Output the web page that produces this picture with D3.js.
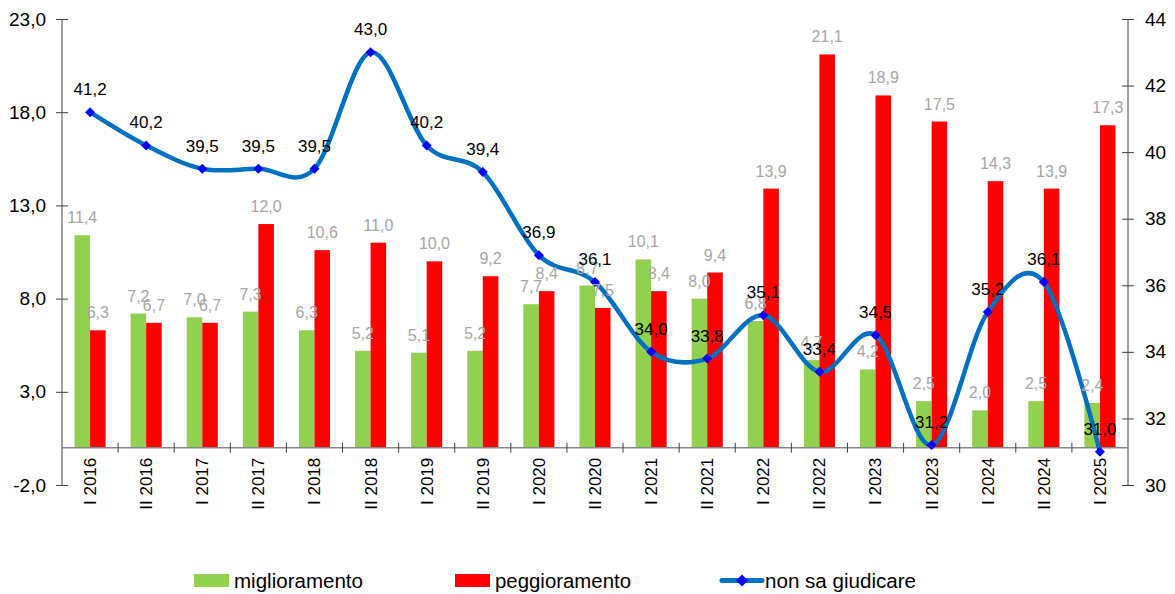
<!DOCTYPE html>
<html>
<head>
<meta charset="utf-8">
<script src="https://cdn.jsdelivr.net/npm/d3@7"></script>
<style>
  html, body { margin: 0; padding: 0; background: #fff; }
  svg { display: block; font-family: "Liberation Sans", Arial, sans-serif; }
</style>
</head>
<body>
<svg id="chart" width="1175" height="594"></svg>
<script>
// Semesters
const categories = ["I 2016", "II 2016", "I 2017", "II 2017", "I 2018", "II 2018", "I 2019", "II 2019",
  "I 2020", "II 2020", "I 2021", "II 2021", "I 2022", "II 2022", "I 2023", "II 2023",
  "I 2024", "II 2024", "I 2025"];

// Share of answers (%)
const miglioramento = [11.4, 7.2, 7.0, 7.3, 6.3, 5.2, 5.1, 5.2, 7.7, 8.7, 10.1, 8.0, 6.8, 4.7, 4.2, 2.5, 2.0, 2.5, 2.4];
const peggioramento = [6.3, 6.7, 6.7, 12.0, 10.6, 11.0, 10.0, 9.2, 8.4, 7.5, 8.4, 9.4, 13.9, 21.1, 18.9, 17.5, 14.3, 13.9, 17.3];
const nonSaGiudicare = [41.2, 40.2, 39.5, 39.5, 39.5, 43.0, 40.2, 39.4, 36.9, 36.1, 34.0, 33.8, 35.1, 33.4, 34.5, 31.2, 35.2, 36.1, 31.0];

const leftTicks = [-2, 3, 8, 13, 18, 23];
const rightTicks = [30, 32, 34, 36, 38, 40, 42, 44];

const seriesNames = ["miglioramento", "peggioramento", "non sa giudicare"];
const barColors = { miglioramento: "#92D050", peggioramento: "#FF0000" };
const lineColor = "#0070C0";
const markerColor = "#0000FF";

const locIt = d3.formatLocale({ decimal: ",", thousands: ".", grouping: [3], currency: ["€", ""], minus: "-" });
const f1 = locIt.format(".1f");

const svg = d3.select("#chart");
const plotLeft = 62, plotRight = 1128, plotTop = 19, plotBottom = 485;

const x = d3.scaleBand().domain(categories).range([plotLeft, plotRight]).paddingInner(0.446).paddingOuter(0.223);
const xs = d3.scaleBand().domain(["miglioramento", "peggioramento"]).range([0, x.bandwidth()]);
const yL = d3.scaleLinear().domain([-2, 23]).range([plotBottom, plotTop]);
const yR = d3.scaleLinear().domain([30, 44]).range([plotBottom, plotTop]);

const rows = categories.map((c, i) => ({ c, miglioramento: miglioramento[i], peggioramento: peggioramento[i], ns: nonSaGiudicare[i] }));

// Bars
const g = svg.append("g");
["miglioramento", "peggioramento"].forEach(k => {
  g.selectAll(null).data(rows).enter().append("rect")
    .attr("x", d => x(d.c) + xs(k))
    .attr("width", xs.bandwidth())
    .attr("y", d => yL(Math.max(0, d[k])))
    .attr("height", d => Math.abs(yL(d[k]) - yL(0)))
    .attr("fill", barColors[k]);
});

// Left axis
const axL = svg.append("g").attr("transform", `translate(${plotLeft},0)`)
  .call(d3.axisLeft(yL).tickValues(leftTicks).tickFormat(f1).tickSize(6).tickPadding(10));
axL.select(".domain").attr("stroke", "#404040").attr("d", `M0,${plotTop}V${plotBottom}`);
axL.selectAll(".tick line").attr("stroke", "#404040").attr("x2", -6).attr("x1", 6);
axL.selectAll(".tick text").attr("font-size", 19).attr("fill", "#000").attr("font-family", "Liberation Sans, Arial, sans-serif");

// Right axis
const axR = svg.append("g").attr("transform", `translate(${plotRight},0)`)
  .call(d3.axisRight(yR).tickValues(rightTicks).tickFormat(d3.format("d")).tickSize(6).tickPadding(11));
axR.select(".domain").attr("stroke", "#404040").attr("d", `M0,${plotTop}V${plotBottom}`);
axR.selectAll(".tick line").attr("stroke", "#404040").attr("x1", -6).attr("x2", 6);
axR.selectAll(".tick text").attr("font-size", 19).attr("fill", "#000").attr("font-family", "Liberation Sans, Arial, sans-serif");

// Category axis at zero
const y0 = yL(0);
const axX = svg.append("g").attr("transform", `translate(0,${y0})`);
axX.append("line").attr("x1", plotLeft).attr("x2", plotRight).attr("stroke", "#888").attr("stroke-width", 1.5);
const gap = (x.step() - x.bandwidth()) / 2;
axX.selectAll(".tk").data(categories.slice(1)).enter().append("line")
  .attr("x1", d => x(d) - gap).attr("x2", d => x(d) - gap)
  .attr("y1", -5).attr("y2", 5).attr("stroke", "#404040");
axX.selectAll(".lbl").data(categories).enter().append("text")
  .attr("transform", d => `translate(${x(d) + x.bandwidth() / 2},${10}) rotate(-90)`)
  .attr("dy", "0.35em")
  .attr("text-anchor", "end")
  .attr("font-size", 17)
  .attr("fill", "#000")
  .text(d => d);

// Line series (smoothed)
const line = d3.line()
  .x(d => x(d.c) + x.bandwidth() / 2)
  .y(d => yR(d.ns))
  .curve(d3.curveCardinal.tension(0));
svg.append("path").datum(rows)
  .attr("d", line)
  .attr("fill", "none")
  .attr("stroke", lineColor)
  .attr("stroke-width", 4.5)
  .attr("stroke-linecap", "round");

const diamond = "M0,-5L5,0L0,5L-5,0Z";
svg.selectAll(".mk").data(rows).enter().append("path")
  .attr("d", diamond)
  .attr("transform", d => `translate(${x(d.c) + x.bandwidth() / 2},${yR(d.ns)})`)
  .attr("fill", markerColor);

// Bar value labels
["miglioramento", "peggioramento"].forEach(k => {
  svg.selectAll(null).data(rows).enter().append("text")
    .attr("x", d => x(d.c) + xs(k) + xs.bandwidth() / 2)
    .attr("y", d => yL(d[k]) - 12)
    .attr("text-anchor", "middle")
    .attr("font-size", 16)
    .attr("fill", "#A6A6A6")
    .text(d => f1(d[k]));
});

// Line value labels
svg.selectAll(".nl").data(rows).enter().append("text")
  .attr("x", d => x(d.c) + x.bandwidth() / 2)
  .attr("y", d => yR(d.ns) - 17)
  .attr("text-anchor", "middle")
  .attr("font-size", 17)
  .attr("fill", "#000")
  .text(d => f1(d.ns));

// Legend
const lg = svg.append("g");
const legendItems = [
  { name: seriesNames[0], x: 194, type: "bar", color: barColors.miglioramento, w: 129 },
  { name: seriesNames[1], x: 455, type: "bar", color: barColors.peggioramento, w: 136 },
  { name: seriesNames[2], x: 722, type: "line", color: lineColor, w: 151 }
];
legendItems.forEach(item => {
  if (item.type === "bar") {
    lg.append("rect").attr("x", item.x).attr("y", 574).attr("width", 35).attr("height", 13).attr("fill", item.color);
  } else {
    lg.append("line").attr("x1", item.x).attr("x2", item.x + 40).attr("y1", 580.5).attr("y2", 580.5)
      .attr("stroke", item.color).attr("stroke-width", 5).attr("stroke-linecap", "round");
    lg.append("path").attr("d", "M0,-6L6,0L0,6L-6,0Z").attr("transform", `translate(${item.x + 20},580.5)`).attr("fill", markerColor);
  }
  lg.append("text")
    .attr("x", item.x + (item.type === "bar" ? 40 : 43))
    .attr("y", 588)
    .attr("font-size", 20.5)
    .attr("textLength", item.w)
    .attr("lengthAdjust", "spacingAndGlyphs")
    .attr("fill", "#000")
    .text(item.name);
});
</script>
</body>
</html>
